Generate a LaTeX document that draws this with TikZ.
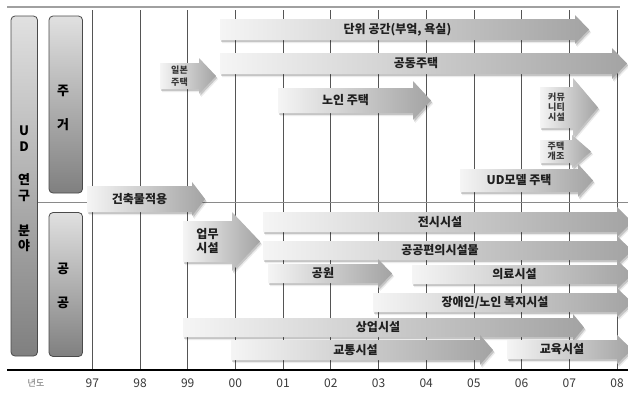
\documentclass[tikz,border=0pt]{standalone}
\usepackage{fontspec}
\setmainfont{Noto Sans CJK KR}
\usetikzlibrary{calc}
\definecolor{gridc}{HTML}{555555}
\definecolor{topc}{HTML}{A0A0A0}
\definecolor{sepc}{HTML}{8A8A8A}
\definecolor{boxline}{HTML}{4A4A4A}
\definecolor{axisc}{HTML}{3A3A3A}
\tikzset{
  arrowshade/.style={left color=black!4, right color=black!36},
  arrowshadow/.style={fill=black, opacity=0.16},
  lbl/.style={font=\fontsize{12}{14}\selectfont\bfseries, text=black!88, inner sep=0pt, align=center},
  smalllbl/.style={font=\fontsize{9}{10}\selectfont\bfseries, text=black!78, inner sep=0pt, align=center},
  sidebox/.style={draw=boxline, line width=0.8pt, rounded corners=4pt, top color=black!12, bottom color=black!50},
  sidetxt/.style={font=\fontsize{13}{15}\selectfont\bfseries, inner sep=0pt},
  yearlbl/.style={font=\fontsize{12}{14}\selectfont, text=axisc, inner sep=0pt}
}
% name, x left, x head base, x tip, y top, y bottom, head overhang, style, text
\newcommand\garr[9]{%
  \pgfmathsetmacro\ym{(#5+#6)/2}%
  \pgfmathsetmacro\yh{#5-#7}%
  \pgfmathsetmacro\yl{#6+#7}%
  \pgfmathsetmacro\xm{(#2+#3)/2}%
  \fill[arrowshadow, xshift=1.2pt, yshift=-1.8pt] (#2,#5) -- (#3,#5) -- (#3,\yh) -- (#4,\ym) -- (#3,\yl) -- (#3,#6) -- (#2,#6) -- cycle;
  \fill[arrowshadow, opacity=0.08, xshift=2.2pt, yshift=-3pt] (#2,#5) -- (#3,#5) -- (#3,\yh) -- (#4,\ym) -- (#3,\yl) -- (#3,#6) -- (#2,#6) -- cycle;
  \shade[arrowshade] (#2,#5) -- (#3,#5) -- (#3,\yh) -- (#4,\ym) -- (#3,\yl) -- (#3,#6) -- (#2,#6) -- cycle;
  \node[#8] (#1) at (\xm,\ym) {#9};%
}
\begin{document}
\begin{tikzpicture}[x=1pt,y=-1pt]
\useasboundingbox (0,0) rectangle (628,392);
\fill[white] (0,0) rectangle (628,392);
\clip (0,0) rectangle (628,392);
% frame lines
\draw[topc, line width=2pt] (7,6.5) -- (620,6.5);
\foreach \k in {0,...,11} {
  \draw[gridc, line width=0.8pt] ({92.3+47.7*\k},10) -- ({92.3+47.7*\k},370);
}
\draw[sepc, line width=1pt] (38,202.5) -- (628,202.5);
\draw[black, line width=2pt] (7,370) -- (628,370);
% side boxes
\draw[sidebox] (11,16) rectangle (37.5,356);
\draw[sidebox] (49,16) rectangle (82.5,193);
\draw[sidebox] (49,212.5) rectangle (82.5,356.5);
\node[sidetxt] (u) at (24,131) {U};
\node[sidetxt] (d) at (24,147) {D};
\node[sidetxt] (yeon) at (24,180) {연};
\node[sidetxt] (gu) at (24,196) {구};
\node[sidetxt] (bun) at (24,231) {분};
\node[sidetxt] (ya) at (24,246) {야};
\node[sidetxt] (ju) at (63,91) {주};
\node[sidetxt] (geo) at (63,125) {거};
\node[sidetxt] (gong1) at (63,269) {공};
\node[sidetxt] (gong2) at (63,303) {공};
% arrows
\garr{unit}{220}{575}{589}{19}{40}{4}{lbl}{단위 공간(부엌, 욕실)}
\garr{apt}{220}{612}{627}{53}{74}{5}{lbl}{공동주택}
\garr{elder}{278}{413}{431}{88}{113}{7}{lbl}{노인 주택}
\garr{japan}{160}{199}{216}{63}{89}{5}{smalllbl}{일본\\[1.5pt]주택}
\garr{commu}{540}{573}{598}{87}{128}{9}{smalllbl}{커뮤\\니티\\시설}
\garr{remod}{540}{572}{591}{140}{163}{5}{smalllbl}{주택\\개조}
\garr{udm}{460}{578}{593}{169}{192}{5}{lbl}{UD모델 주택}
\garr{bldg}{87}{192}{205}{186}{212}{4}{lbl}{건축물적용}
\garr{office}{183}{232}{260}{221}{262}{9}{lbl}{업무\\시설}
\garr{exhib}{263}{617}{632}{212}{232}{5}{lbl}{전시시설}
\garr{conv}{263}{617}{632}{241}{260}{5}{lbl}{공공편의시설물}
\garr{park}{268}{378}{392}{264}{283}{5}{lbl}{공원}
\garr{med}{412}{617}{632}{265}{284}{5}{lbl}{의료시설}
\garr{welfare}{373}{617}{632}{293}{312}{5}{lbl}{장애인/노인 복지시설}
\garr{biz}{183}{573}{584}{318}{337}{4}{lbl}{상업시설}
\garr{traffic}{231}{480}{493}{340}{360}{5}{lbl}{교통시설}
\garr{edu}{507}{617}{632}{340}{359}{5}{lbl}{교육시설}
% axis labels
\node[font=\fontsize{9}{10}\selectfont, text=black!60, inner sep=0pt] (yr) at (36,383) {년도};
\foreach \lab [count=\k from 0] in {97,98,99,00,01,02,03,04,05,06,07,08} {
  \node[yearlbl] (y\lab) at ({92.3+47.7*\k},383) {\lab};
}
\end{tikzpicture}
\end{document}
